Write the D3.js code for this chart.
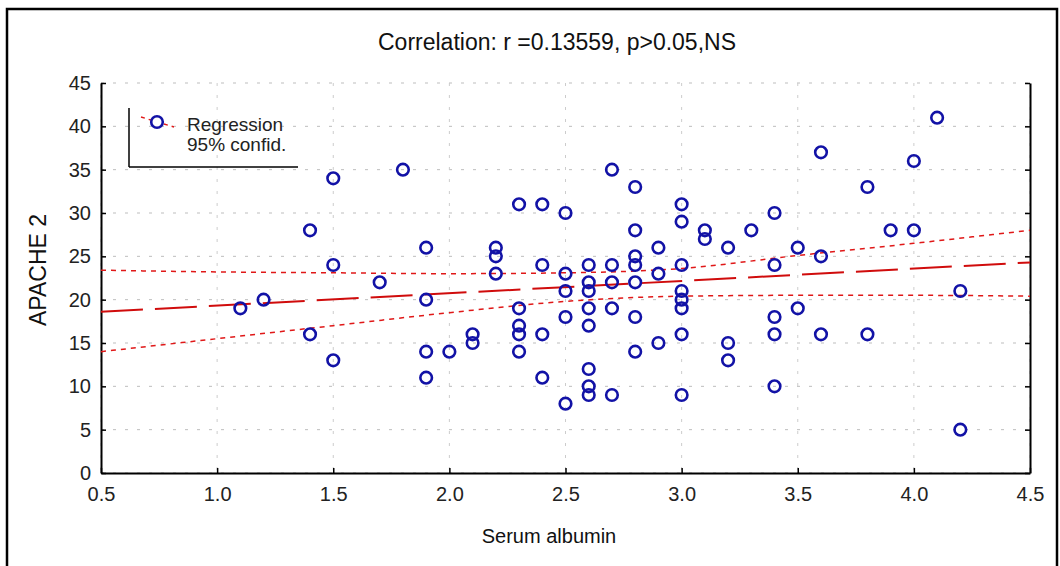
<!DOCTYPE html>
<html>
<head>
<meta charset="utf-8">
<script src="https://cdn.jsdelivr.net/npm/d3@7"></script>
<style>
  body { margin: 0; background: #fff; }
  svg { font-family: "Liberation Sans", Arial, sans-serif; }
</style>
</head>
<body>
<div id="chart"></div>
<script>
// scatter points, one pair per patient
const albumin = [
  1.1, 1.2, 1.4, 1.4, 1.5, 1.5, 1.5, 1.7, 1.8,
  1.9, 1.9, 1.9, 1.9, 2.0, 2.1, 2.1,
  2.2, 2.2, 2.2,
  2.3, 2.3, 2.3, 2.3, 2.3,
  2.4, 2.4, 2.4, 2.4,
  2.5, 2.5, 2.5, 2.5, 2.5,
  2.6, 2.6, 2.6, 2.6, 2.6, 2.6, 2.6, 2.6,
  2.7, 2.7, 2.7, 2.7, 2.7,
  2.8, 2.8, 2.8, 2.8, 2.8, 2.8, 2.8,
  2.9, 2.9, 2.9,
  3.0, 3.0, 3.0, 3.0, 3.0, 3.0, 3.0, 3.0,
  3.1, 3.1, 3.2, 3.2, 3.2, 3.3,
  3.4, 3.4, 3.4, 3.4, 3.4,
  3.5, 3.5, 3.6, 3.6, 3.6,
  3.8, 3.8, 3.9, 4.0, 4.0, 4.1, 4.2, 4.2
];
const apache = [
  19, 20, 28, 16, 34, 24, 13, 22, 35,
  26, 20, 14, 11, 14, 16, 15,
  26, 25, 23,
  31, 19, 17, 16, 14,
  31, 24, 16, 11,
  30, 23, 21, 18, 8,
  24, 22, 21, 19, 17, 12, 10, 9,
  35, 24, 22, 19, 9,
  33, 28, 25, 24, 22, 18, 14,
  26, 23, 15,
  31, 29, 24, 21, 20, 19, 16, 9,
  28, 27, 26, 15, 13, 28,
  30, 24, 18, 16, 10,
  26, 19, 37, 25, 16,
  33, 16, 28, 36, 28, 41, 21, 5
];

// regression line end points and 95% band
const regX = [0.5, 4.5];
const regY = [18.6, 24.3];
const bandX = [0.5, 1.0, 1.5, 2.0, 2.5, 3.0, 3.5, 4.0, 4.5];
const upperBand = [23.4, 23.2, 23.1, 23.0, 23.1, 23.6, 25.1, 26.5, 28.0];
const lowerBand = [14.0, 15.5, 17.0, 18.5, 19.8, 20.4, 20.5, 20.5, 20.4];

const xTicks = [0.5, 1.0, 1.5, 2.0, 2.5, 3.0, 3.5, 4.0, 4.5];
const yTicks = [0, 5, 10, 15, 20, 25, 30, 35, 40, 45];

const W = 1060, H = 566;
const margin = { top: 83, right: 30, bottom: 93, left: 101 },
  width = W - margin.left - margin.right,
  height = H - margin.top - margin.bottom;

const svg = d3.select("#chart")
  .append("svg")
  .attr("width", W)
  .attr("height", H);

// outer frame
svg.append("rect")
  .attr("x", 7).attr("y", 9)
  .attr("width", 1050).attr("height", 570)
  .attr("fill", "none")
  .attr("stroke", "#000")
  .attr("stroke-width", 2.5);

const g = svg.append("g")
  .attr("transform", `translate(${margin.left},${margin.top})`);

const x = d3.scaleLinear().domain([0.5, 4.5]).range([0, width]);
const y = d3.scaleLinear().domain([0, 45]).range([height, 0]);

// grid
g.append("g")
  .selectAll("line")
  .data(yTicks)
  .join("line")
  .attr("x1", 0).attr("x2", width)
  .attr("y1", d => y(d)).attr("y2", d => y(d))
  .attr("stroke", "#bdbdbd")
  .attr("stroke-dasharray", "3,9");

g.append("g")
  .selectAll("line")
  .data(xTicks)
  .join("line")
  .attr("x1", d => x(d)).attr("x2", d => x(d))
  .attr("y1", 0).attr("y2", height)
  .attr("stroke", "#cccccc")
  .attr("stroke-dasharray", "3,9");

// axes
const xAxis = g.append("g")
  .attr("transform", `translate(0,${height})`)
  .call(d3.axisBottom(x).tickValues(xTicks).tickFormat(d3.format(".1f")).tickSizeInner(-5).tickSizeOuter(0).tickPadding(14));

const yAxis = g.append("g")
  .call(d3.axisLeft(y).tickValues(yTicks).tickSizeInner(-5).tickSizeOuter(0).tickPadding(10));

const yAxisR = g.append("g")
  .attr("transform", `translate(${width},0)`)
  .call(d3.axisRight(y).tickValues(yTicks).tickSizeInner(-5).tickSizeOuter(0).tickFormat(""));

[xAxis, yAxis, yAxisR].forEach(a => {
  a.select(".domain").attr("stroke", "#000").attr("stroke-width", 2);
  a.selectAll(".tick line").attr("stroke", "#000").attr("stroke-width", 1.5);
  a.selectAll("text")
    .attr("fill", "#222")
    .style("font-size", "20px")
    .style("font-family", "'Liberation Sans', Arial, sans-serif");
});

// regression + confidence band
const band = d3.line()
  .x((d, i) => x(bandX[i]))
  .y(d => y(d))
  .curve(d3.curveMonotoneX);

[upperBand, lowerBand].forEach(b => {
  g.append("path")
    .datum(b)
    .attr("fill", "none")
    .attr("stroke", "#e01818")
    .attr("stroke-width", 1.5)
    .attr("stroke-dasharray", "5,5")
    .attr("d", band);
});

g.append("line")
  .attr("x1", x(regX[0])).attr("y1", y(regY[0]))
  .attr("x2", x(regX[1])).attr("y2", y(regY[1]))
  .attr("stroke", "#d00c0c")
  .attr("stroke-width", 2)
  .attr("stroke-dasharray", "42,12");

// points
g.append("g")
  .selectAll("circle")
  .data(albumin)
  .join("circle")
  .attr("cx", d => x(d))
  .attr("cy", (d, i) => y(apache[i]))
  .attr("r", 5.8)
  .attr("fill", "none")
  .attr("stroke", "#1212a6")
  .attr("stroke-width", 2.6);

// title and axis labels
svg.append("text")
  .attr("x", 557).attr("y", 50)
  .attr("text-anchor", "middle")
  .style("font-size", "23px")
  .attr("fill", "#111")
  .text("Correlation: r =0.13559, p>0.05,NS");

svg.append("text")
  .attr("x", 549).attr("y", 543)
  .attr("text-anchor", "middle")
  .style("font-size", "20px")
  .attr("fill", "#111")
  .text("Serum albumin");

svg.append("text")
  .attr("transform", "translate(46,270) rotate(-90)")
  .attr("text-anchor", "middle")
  .style("font-size", "23px")
  .attr("fill", "#111")
  .text("APACHE 2");

// legend
const legend = svg.append("g");

legend.append("line")
  .attr("x1", 129).attr("y1", 108).attr("x2", 129).attr("y2", 167)
  .attr("stroke", "#000").attr("stroke-width", 1.5);
legend.append("line")
  .attr("x1", 129).attr("y1", 167).attr("x2", 298).attr("y2", 167)
  .attr("stroke", "#000").attr("stroke-width", 1.5);

legend.append("line")
  .attr("x1", 141).attr("y1", 117).attr("x2", 174).attr("y2", 127)
  .attr("stroke", "#e01818")
  .attr("stroke-width", 1.4)
  .attr("stroke-dasharray", "4,4");

legend.append("circle")
  .attr("cx", 157).attr("cy", 122)
  .attr("r", 5.8)
  .attr("fill", "#fff")
  .attr("stroke", "#1212a6")
  .attr("stroke-width", 2.6);

legend.append("text")
  .attr("x", 187).attr("y", 131)
  .style("font-size", "19px")
  .attr("fill", "#222")
  .text("Regression");

legend.append("text")
  .attr("x", 187).attr("y", 151)
  .style("font-size", "19px")
  .attr("fill", "#222")
  .text("95% confid.");
</script>
</body>
</html>
